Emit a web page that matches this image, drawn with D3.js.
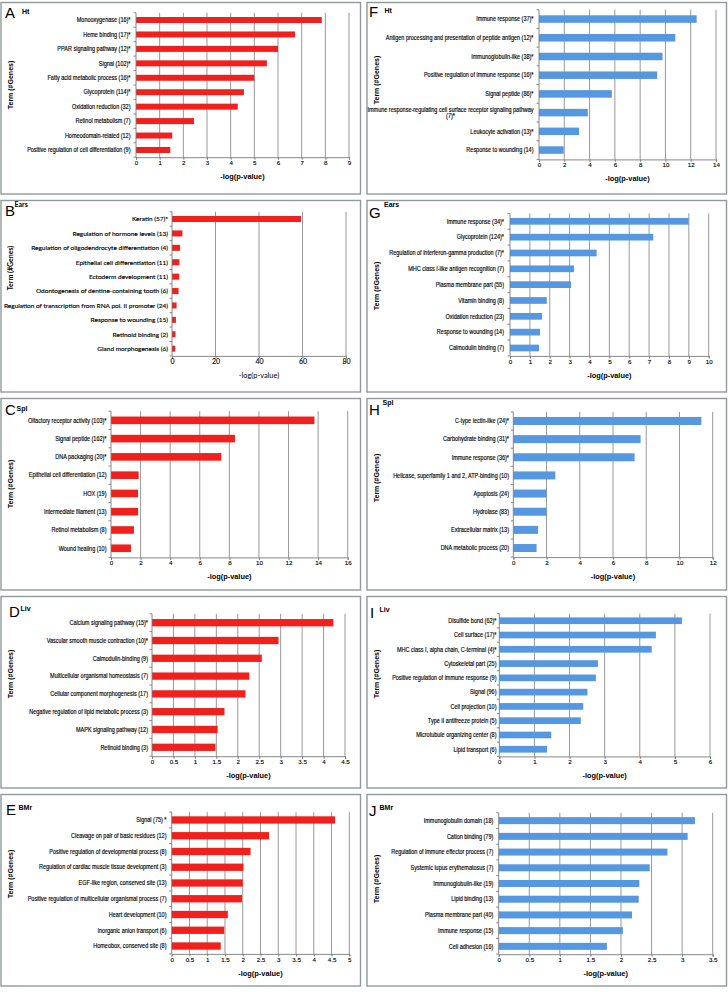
<!DOCTYPE html>
<html>
<head>
<meta charset="utf-8">
<script src="https://cdn.jsdelivr.net/npm/d3@7"></script>
<style>
body{margin:0;background:#fff}
svg{display:block}
</style>
</head>
<body>
<svg id="chart" width="728" height="992"></svg>
<script>
// ---- data ----
var termsA = ["Monooxygenase (16)*","Heme binding (17)*","PPAR signaling pathway (12)*","Signal (102)*","Fatty acid metabolic process (16)*","Glycoprotein (114)*","Oxidation reduction (32)","Retinol metabolism (7)","Homeodomain-related (12)","Positive regulation of cell differentiation (9)"]
var valuesA = [7.85,6.72,6.0,5.53,5.0,4.56,4.3,2.45,1.53,1.45]
var ticksA = [0,1,2,3,4,5,6,7,8,9]

var termsB = ["Keratin (57)*","Regulation of hormone levels (13)","Regulation of oligodendrocyte differentiation (4)","Epithelial cell differentiation (11)","Ectoderm development (11)","Odontogenesis of dentine-containing tooth (6)","Regulation of transcription from RNA pol. II promoter (24)","Response to wounding (15)","Retinoid binding (2)","Gland morphogenesis (6)"]
var valuesB = [59.3,4.8,3.7,3.4,3.3,3.0,2.1,1.8,1.6,1.5]
var ticksB = [0,20,40,60,80]

var termsC = ["Olfactory receptor activity (103)*","Signal peptide (162)*","DNA packaging (20)*","Epithelial cell differentiation (12)","HOX (19)","Intermediate filament (13)","Retinol metabolism (8)","Wound healing (10)"]
var valuesC = [13.75,8.38,7.46,1.87,1.83,1.83,1.55,1.35]
var ticksC = [0,2,4,6,8,10,12,14,16]

var termsD = ["Calcium signaling pathway (15)*","Vascular smooth muscle contraction (10)*","Calmodulin-binding (9)","Multicellular organismal homeostasis (7)","Cellular component morphogenesis (17)","Negative regulation of lipid metabolic process (3)","MAPK signaling pathway (12)","Retinoid binding (3)"]
var valuesD = [4.23,2.95,2.56,2.27,2.18,1.69,1.53,1.48]
var ticksD = [0,0.5,1,1.5,2,2.5,3,3.5,4,4.5]

var termsE = ["Signal (75) *","Cleavage on pair of basic residues (12)","Positive regulation of developmental process (8)","Regulation of cardiac muscle tissue development (3)","EGF-like region, conserved site (13)","Positive regulation of multicellular organismal process (7)","Heart development (10)","Inorganic anion transport (6)","Homeobox, conserved site (8)"]
var valuesE = [4.6,2.74,2.22,2.02,2.0,1.98,1.58,1.48,1.38]
var ticksE = [0,0.5,1,1.5,2,2.5,3,3.5,4,4.5,5]

var termsF = ["Immune response (37)*","Antigen processing and presentation of peptide antigen (12)*","Immunoglobulin-like (38)*","Positive regulation of immune response (16)*","Signal peptide (86)*","Immune response-regulating cell surface receptor signaling pathway\n(7)*","Leukocyte activation (13)*","Response to wounding (14)"]
var valuesF = [12.47,10.78,9.77,9.35,5.76,3.86,3.17,1.95]
var ticksF = [0,2,4,6,8,10,12,14]

var termsG = ["Immune response (34)*","Glycoprotein (124)*","Regulation of interferon-gamma production (7)*","MHC class I-like antigen recognition (7)","Plasma membrane part (55)","Vitamin binding (8)","Oxidation reduction (23)","Response to wounding (14)","Calmodulin binding (7)"]
var valuesG = [8.99,7.21,4.36,3.22,3.07,1.85,1.61,1.51,1.46]
var ticksG = [0,1,2,3,4,5,6,7,8,9,10]

var termsH = ["C-type lectin-like (24)*","Carbohydrate binding (31)*","Immune response (36)*","Helicase, superfamily 1 and 2, ATP-binding (10)","Apoptosis (24)","Hydrolase (83)","Extracellular matrix (13)","DNA metabolic process (20)"]
var valuesH = [11.32,7.66,7.3,2.53,2.0,2.0,1.49,1.4]
var ticksH = [0,2,4,6,8,10,12]

var termsI = ["Disulfide bond (62)*","Cell surface (17)*","MHC class I, alpha chain, C-terminal (4)*","Cytoskeletal part (25)","Positive regulation of immune response (9)","Signal (96)","Cell projection (10)","Type II antifreeze protein (5)","Microtubule organizing center (8)","Lipid transport (6)"]
var valuesI = [5.2,4.46,4.34,2.81,2.75,2.51,2.39,2.32,1.48,1.36]
var ticksI = [0,1,2,3,4,5,6]

var termsJ = ["Immunoglobulin domain (18)","Cation binding (79)","Regulation of immune effector process (7)","Systemic lupus erythematosus (7)","Immunoglobulin-like (19)","Lipid binding (13)","Plasma membrane part (40)","Immune response (15)","Cell adhesion (16)"]
var valuesJ = [3.21,3.09,2.76,2.47,2.3,2.29,2.18,2.03,1.77]
var ticksJ = [0,0.5,1,1.5,2,2.5,3,3.5]

var RED = "#f2201c", BLUE = "#5597e0"

var arialStyle = {family:"'Liberation Sans', Arial, sans-serif", label:6.4, sx:0.86, tick:6.2, title:7.4, ytitle:7, titleWeight:"bold"}
var calibriStyle = {family:"Lato, 'Open Sans', sans-serif", label:6.5, sx:1, tick:7, title:7.4, ytitle:7, titleWeight:"normal"}

// layout per panel, in coordinates local to each panel cell
var panels = [
	{letter:"A", tissue:"Ht", terms:termsA, values:valuesA, ticks:ticksA, color:RED, ox:0, oy:0, x0:136, x1:349, top:12.8, bottom:157.2, barH:6, labelEnd:130.5, st:arialStyle, lx:5, ly:17.5, tx:22, ty:13.5, yt:85},
	{letter:"B", tissue:"Ears", terms:termsB, values:valuesB, ticks:ticksB, color:RED, ox:0, oy:198, x0:172, x1:346, top:13.8, bottom:157.9, barH:6, labelEnd:168, st:calibriStyle, lx:5, ly:18, tx:14.5, ty:8.5, yt:70},
	{letter:"C", tissue:"Spl", terms:termsC, values:valuesC, ticks:ticksC, color:RED, ox:0, oy:396, x0:111, x1:347.7, top:15.2, bottom:161.4, barH:7.6, labelEnd:106.5, st:arialStyle, lx:5, ly:19, tx:16.5, ty:15, yt:88},
	{letter:"D", tissue:"Liv", terms:termsD, values:valuesD, ticks:ticksD, color:RED, ox:0, oy:594, x0:152, x1:345, top:19.8, bottom:162.2, barH:7.3, labelEnd:148, st:arialStyle, lx:9, ly:23, tx:20.5, ty:17, yt:80},
	{letter:"E", tissue:"BMr", terms:termsE, values:valuesE, ticks:ticksE, color:RED, ox:0, oy:792, x0:171.7, x1:349.3, top:20.1, bottom:161.9, barH:7.3, labelEnd:166.5, st:arialStyle, lx:6, ly:23, tx:18.5, ty:18, yt:82},
	{letter:"F", tissue:"Ht", terms:termsF, values:valuesF, ticks:ticksF, color:BLUE, ox:366, oy:0, x0:173, x1:350, top:9.7, bottom:159.4, barH:7.5, labelEnd:167.5, st:arialStyle, lx:3, ly:17, tx:18.5, ty:13, yt:80},
	{letter:"G", tissue:"Ears", terms:termsG, values:valuesG, ticks:ticksG, color:BLUE, ox:366, oy:198, x0:144, x1:342.7, top:15.4, bottom:157.9, barH:6.7, labelEnd:138, st:arialStyle, lx:3, ly:20, tx:18, ty:9, yt:88},
	{letter:"H", tissue:"Spl", terms:termsH, values:valuesH, ticks:ticksH, color:BLUE, ox:366, oy:396, x0:147.3, x1:346.7, top:15.9, bottom:161.1, barH:8, labelEnd:143, st:arialStyle, lx:3, ly:19, tx:16.5, ty:8.5, yt:82},
	{letter:"I", tissue:"Liv", terms:termsI, values:valuesI, ticks:ticksI, color:BLUE, ox:366, oy:594, x0:133.3, x1:344, top:19.6, bottom:162.4, barH:6.7, labelEnd:130.5, st:arialStyle, lx:4, ly:24, tx:13.5, ty:18, yt:80},
	{letter:"J", tissue:"BMr", terms:termsJ, values:valuesJ, ticks:ticksJ, color:BLUE, ox:366, oy:792, x0:132.7, x1:346.7, top:20.8, bottom:162.2, barH:7, labelEnd:127.3, st:arialStyle, lx:3, ly:24, tx:13.5, ty:18, yt:87}
]

var svg = d3.select("#chart")
var fmt = d3.format("~g")

panels.forEach(function(p){
	var st = p.st
	var g = svg.append("g").attr("transform", "translate(" + p.ox + "," + p.oy + ")")

	// frame
	g.append("rect")
		.attr("x", 1).attr("y", 2.5)
		.attr("width", 359.5).attr("height", 191.5)
		.attr("fill", "#fff")
		.attr("stroke", "#8f9a9a")
		.attr("stroke-width", 1.4)

	var x = d3.scaleLinear().domain([0, p.ticks[p.ticks.length - 1]]).range([p.x0, p.x1])
	var n = p.terms.length
	var step = (p.bottom - p.top) / n
	var pad = 1 - p.barH / step
	var y = d3.scaleBand().domain(p.terms).range([p.top, p.bottom]).paddingInner(pad).paddingOuter(pad / 2)

	// vertical gridlines
	g.selectAll(".grid")
		.data(p.ticks.slice(1))
		.enter()
		.append("line")
			.attr("x1", function(d){ return x(d) })
			.attr("x2", function(d){ return x(d) })
			.attr("y1", p.top)
			.attr("y2", p.bottom)
			.attr("stroke", "#8c8c8c")
			.attr("stroke-width", 0.9)

	// bars
	g.selectAll(".bar")
		.data(p.values)
		.enter()
		.append("rect")
			.attr("x", x(0))
			.attr("y", function(d, i){ return y(p.terms[i]) })
			.attr("width", function(d){ return x(d) - x(0) })
			.attr("height", y.bandwidth())
			.attr("fill", p.color)

	// x axis
	var xAxis = d3.axisBottom(x).tickValues(p.ticks).tickSize(2.5).tickPadding(1).tickFormat(fmt)
	var ax = g.append("g").attr("transform", "translate(0," + p.bottom + ")").call(xAxis)
	ax.select(".domain").attr("stroke", "#7a7a7a").attr("stroke-width", 0.9)
	ax.selectAll(".tick line").attr("stroke", "#7a7a7a")
	ax.selectAll("text")
		.attr("font-family", st.family)
		.attr("font-size", st.tick)
		.attr("fill", "#000")
		.attr("stroke", "#000").attr("stroke-width", 0.12)

	// y axis line with ticks at category edges
	g.append("line")
		.attr("x1", p.x0).attr("x2", p.x0)
		.attr("y1", p.top).attr("y2", p.bottom)
		.attr("stroke", "#7a7a7a").attr("stroke-width", 0.9)
	var edges = d3.range(n + 1).map(function(i){ return p.top + step * i })
	g.selectAll(".ytick")
		.data(edges)
		.enter()
		.append("line")
			.attr("x1", p.x0 - 2.5).attr("x2", p.x0)
			.attr("y1", function(d){ return d }).attr("y2", function(d){ return d })
			.attr("stroke", "#7a7a7a").attr("stroke-width", 0.9)

	// category labels
	g.selectAll(".term")
		.data(p.terms)
		.enter()
		.append("text")
			.attr("transform", function(d){
				return "translate(" + p.labelEnd + "," + (y(d) + y.bandwidth() / 2) + ") scale(" + st.sx + ",1)"
			})
			.attr("font-family", st.family)
			.attr("font-size", st.label)
			.attr("fill", "#000")
			.attr("stroke", "#000").attr("stroke-width", 0.15)
			.attr("text-anchor", "end")
			.each(function(d){
				var lines = d.split("\n")
				var t = d3.select(this)
				if(lines.length == 1){
					t.attr("dy", "0.35em").text(d)
					return
				}
				// wrapped label, centred like the spreadsheet does it
				t.text(lines[0])
				var w = this.getComputedTextLength()
				t.text(null).attr("text-anchor", "middle")
				lines.forEach(function(line, k){
					t.append("tspan")
						.attr("x", -w / 2)
						.attr("y", (k - (lines.length - 1) / 2) * 6.6)
						.attr("dy", "0.35em")
						.text(line)
				})
			})

	// axis titles
	g.append("text")
		.attr("x", (p.x0 + p.x1) / 2)
		.attr("y", p.bottom + 19.5)
		.attr("dy", "0.35em")
		.attr("text-anchor", "middle")
		.attr("font-family", st.family)
		.attr("font-size", st.title)
		.attr("font-weight", st.titleWeight)
		.attr("fill", "#000")
		.text("-log(p-value)")

	g.append("text")
		.attr("transform", "translate(11," + p.yt + ") rotate(-90)")
		.attr("dy", "0.35em")
		.attr("text-anchor", "middle")
		.attr("font-family", st.family)
		.attr("font-size", st.ytitle)
		.attr("font-weight", "bold")
		.attr("fill", "#000")
		.text("Term (#Genes)")

	// panel letter and tissue
	g.append("text")
		.attr("x", p.lx).attr("y", p.ly)
		.attr("font-family", "'Liberation Sans', Arial, sans-serif")
		.attr("font-size", 15)
		.attr("fill", "#000")
		.text(p.letter)

	g.append("text")
		.attr("x", p.tx).attr("y", p.ty)
		.attr("font-family", st.family)
		.attr("font-size", 7)
		.attr("font-weight", "bold")
		.attr("fill", "#000")
		.text(p.tissue)
})
</script>
</body>
</html>
